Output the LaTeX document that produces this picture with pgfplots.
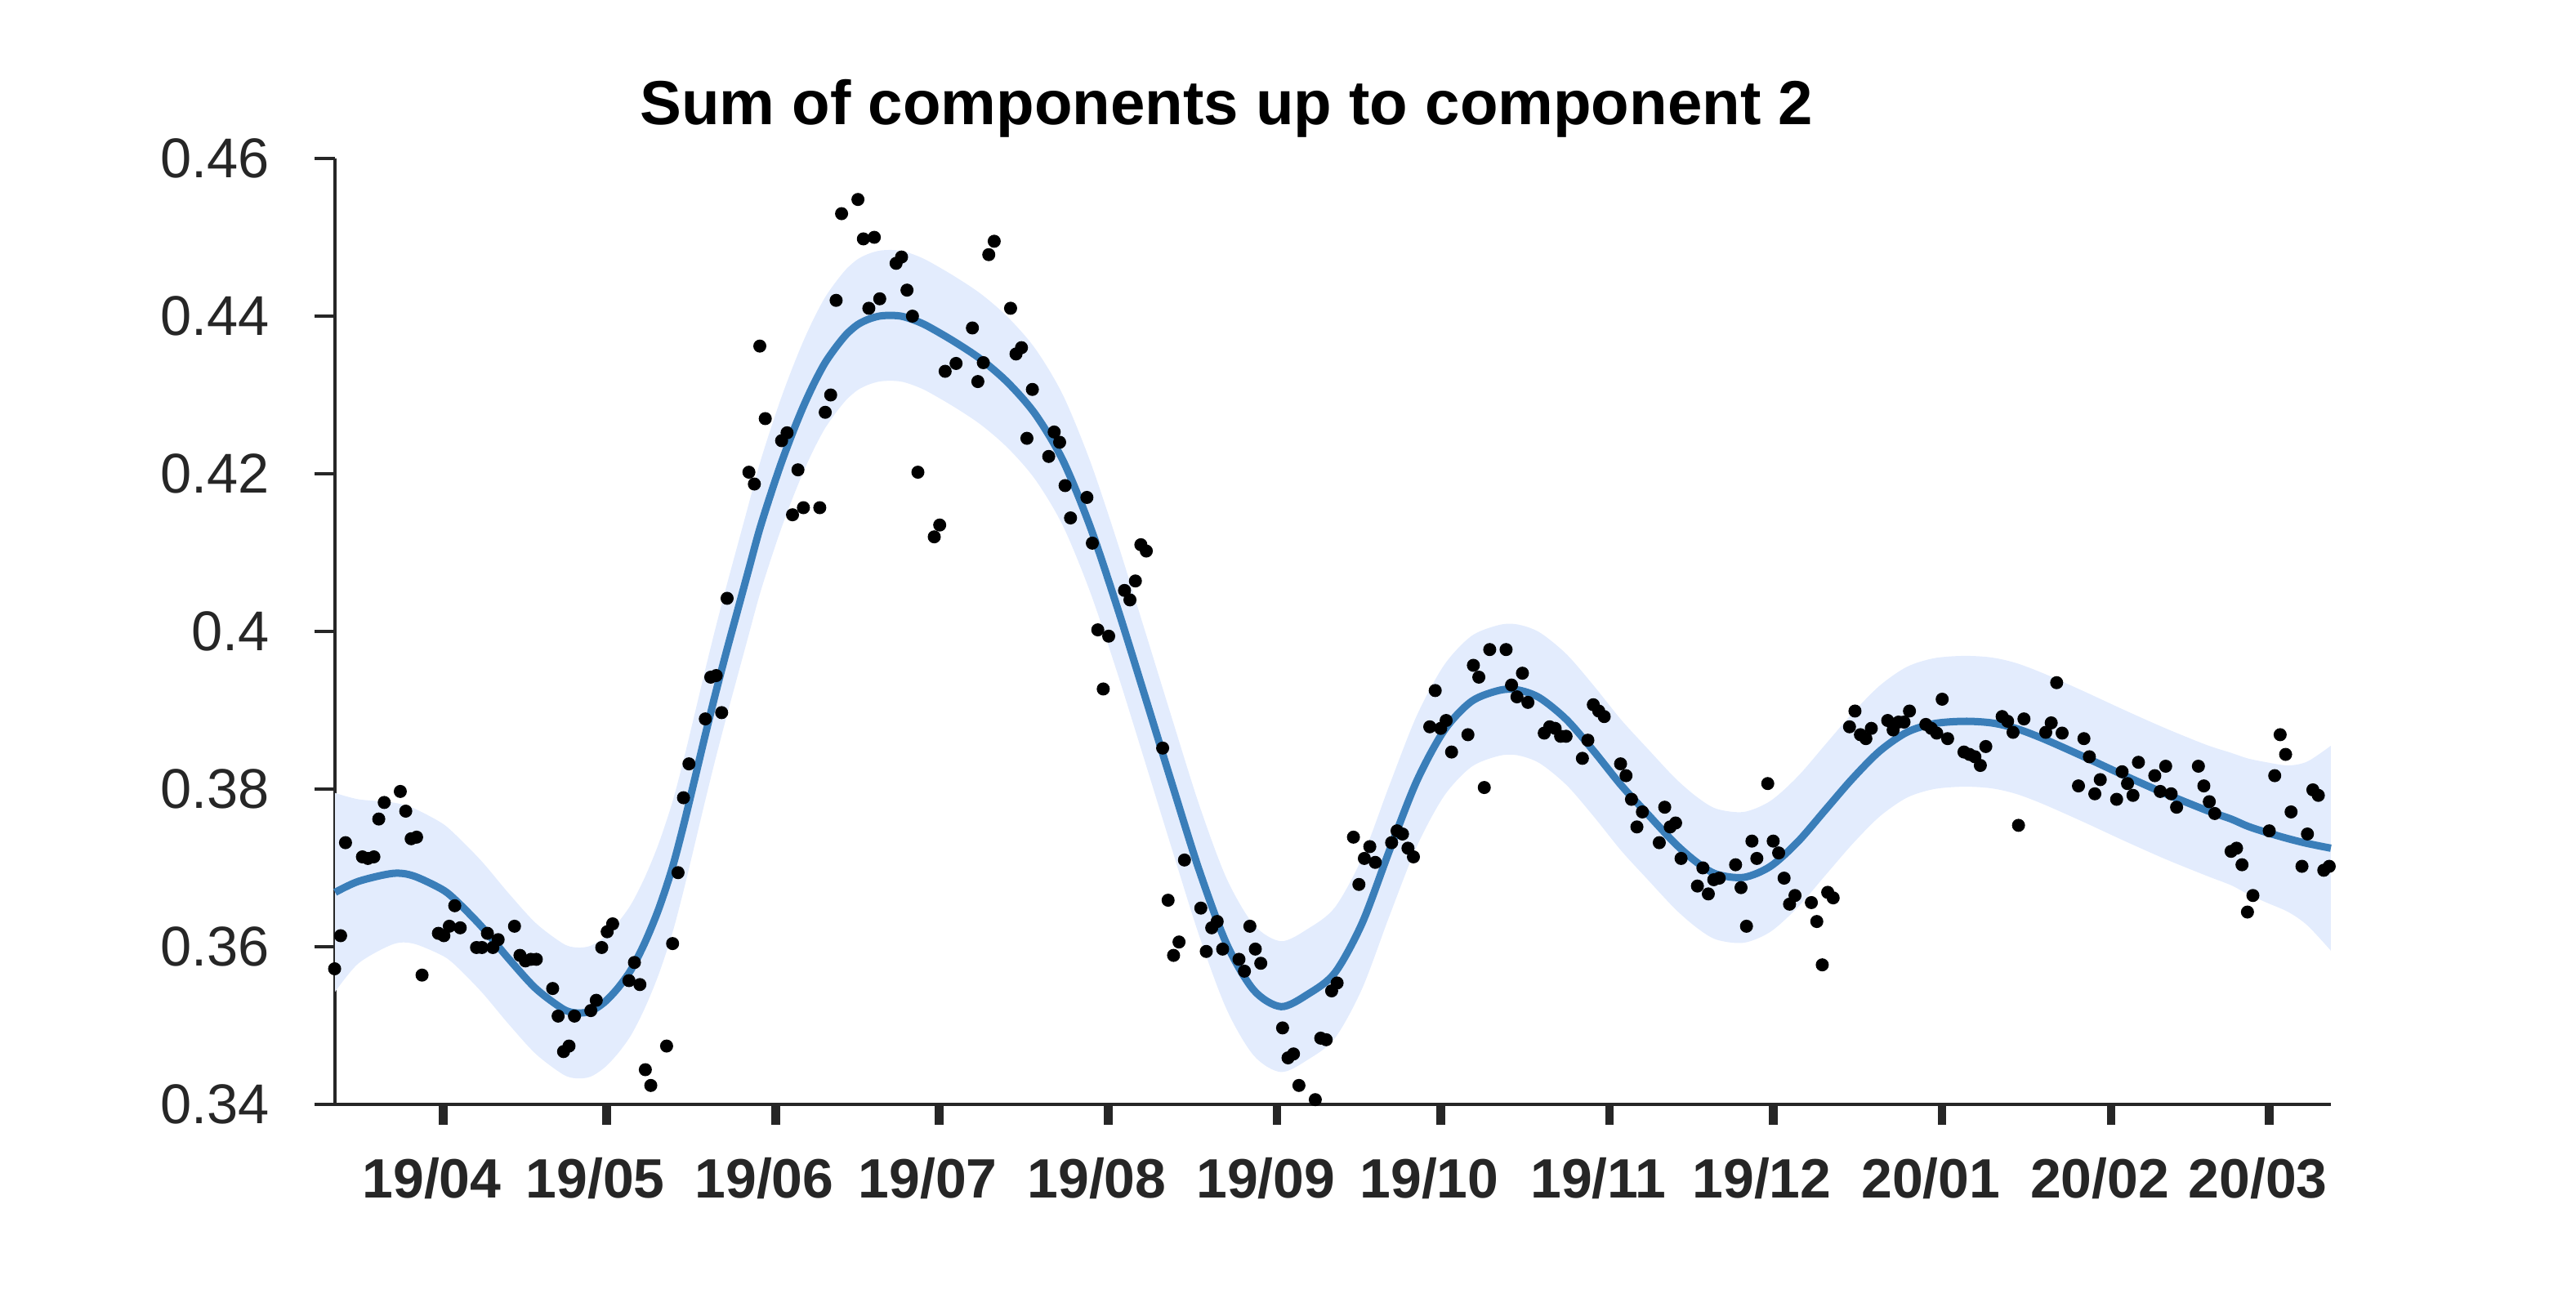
\documentclass[border=0pt]{standalone}
\usepackage{fontspec}
\setmainfont{Liberation Sans}
\usepackage{pgfplots}
\pgfplotsset{compat=1.18}
\usepgfplotslibrary{fillbetween}
\usepackage{pgfplotstable}
\definecolor{txt}{HTML}{262626}
\definecolor{fitc}{HTML}{3A7EB9}
\definecolor{bandc}{HTML}{E3ECFD}

\pgfplotstableread{
x m lo hi
-19.8 0.3669 0.3543 0.3795
-15.5 0.3683 0.3579 0.3787
-9.25 0.3693 0.3603 0.3783
-5.5 0.3690 0.3604 0.3776
-0.5 0.3674 0.3590 0.3758
2 0.3661 0.3578 0.3744
7 0.3626 0.3543 0.3709
12 0.3585 0.3502 0.3668
17 0.3547 0.3464 0.3630
22 0.3521 0.3438 0.3604
24.5 0.3516 0.3433 0.3599
27 0.3518 0.3435 0.3601
29.5 0.3529 0.3446 0.3612
32 0.3547 0.3464 0.3630
34.5 0.3571 0.3488 0.3654
37 0.3605 0.3522 0.3688
39.5 0.3647 0.3564 0.3730
42 0.3699 0.3616 0.3782
44 0.3751 0.3668 0.3834
46 0.3808 0.3725 0.3891
48 0.3866 0.3783 0.3949
50 0.3922 0.3839 0.4005
52 0.3975 0.3892 0.4058
54 0.4026 0.3943 0.4109
56 0.4077 0.3994 0.4160
58 0.4128 0.4045 0.4211
60 0.4172 0.4089 0.4255
62 0.4213 0.4130 0.4296
64 0.4250 0.4167 0.4333
66 0.4284 0.4201 0.4367
68 0.4314 0.4231 0.4397
70 0.4340 0.4257 0.4423
72 0.4360 0.4277 0.4443
74 0.4377 0.4294 0.4460
76 0.4389 0.4306 0.4472
78 0.4396 0.4313 0.4479
80 0.4400 0.4317 0.4483
82 0.4401 0.4318 0.4484
84 0.4400 0.4317 0.4483
86 0.4396 0.4313 0.4479
88.7 0.4388 0.4305 0.4471
93.7 0.4368 0.4285 0.4451
98.7 0.4345 0.4262 0.4428
103.7 0.4315 0.4232 0.4398
108.7 0.4275 0.4192 0.4358
113.7 0.4217 0.4134 0.4300
118.7 0.4133 0.4050 0.4216
123.7 0.4030 0.3947 0.4113
128.7 0.3919 0.3836 0.4002
133.7 0.3807 0.3724 0.3890
138.7 0.3697 0.3614 0.3780
143.7 0.3604 0.3521 0.3687
148.7 0.3545 0.3462 0.3628
153.7 0.3524 0.3441 0.3607
158.7 0.3540 0.3457 0.3623
163.6 0.3567 0.3484 0.3650
168.6 0.3630 0.3547 0.3713
173.6 0.3722 0.3639 0.3805
178.6 0.3810 0.3727 0.3893
183.6 0.3874 0.3791 0.3957
188.6 0.3911 0.3828 0.3994
193.6 0.3925 0.3842 0.4008
197 0.3926 0.3843 0.4009
201.1 0.3916 0.3833 0.3999
206.1 0.3888 0.3805 0.3971
211.1 0.3848 0.3765 0.3931
216.1 0.3805 0.3722 0.3888
221 0.3768 0.3685 0.3851
226 0.3731 0.3648 0.3814
230 0.3707 0.3624 0.3790
233.6 0.3692 0.3609 0.3775
238.6 0.3688 0.3605 0.3771
243.5 0.3702 0.3619 0.3785
248.5 0.3733 0.3650 0.3816
253.5 0.3773 0.3690 0.3856
258.5 0.3813 0.3730 0.3896
263.5 0.3848 0.3765 0.3931
268.5 0.3872 0.3789 0.3955
273.5 0.3883 0.3800 0.3966
279 0.3886 0.3803 0.3969
284 0.3884 0.3801 0.3967
288.5 0.3877 0.3794 0.3960
293.5 0.3864 0.3781 0.3947
301 0.3841 0.3758 0.3924
308.5 0.3817 0.3734 0.3900
316 0.3794 0.3711 0.3877
323.5 0.3773 0.3690 0.3856
328 0.3762 0.3678 0.3846
331 0.3753 0.3667 0.3839
334.5 0.3745 0.3656 0.3834
338.5 0.3737 0.3644 0.3830
342 0.3731 0.3627 0.3835
346.3 0.3725 0.3595 0.3855
}\fit

\pgfplotstableread{
x y
-19.9 0.3572
-18.8 0.3614
-17.9 0.3732
-14.8 0.3714
-13.8 0.3712
-12.7 0.3714
-11.8 0.3762
-10.8 0.3783
-7.85 0.3797
-6.85 0.3772
-5.86 0.3737
-4.86 0.3739
-3.86 0.3564
-0.86 0.3617
0.14 0.3614
1.14 0.3626
2.14 0.3652
3.14 0.3624
6.13 0.3599
7.13 0.3599
8.13 0.3617
9.13 0.3599
10.1 0.3609
13.1 0.3626
14.1 0.3589
15.1 0.3582
16.1 0.3584
17.1 0.3584
20.1 0.3547
21.1 0.3512
22.1 0.3467
23.1 0.3474
24.1 0.3512
27.1 0.3519
28.1 0.3532
29.1 0.3599
30.1 0.3619
31.1 0.3629
34.1 0.3557
35.1 0.3580
36.1 0.3552
37.1 0.3444
38.1 0.3424
41.0 0.3474
42.1 0.3604
43.1 0.3694
44.1 0.3789
45.1 0.3832
48.1 0.3889
49.1 0.3942
50.1 0.3944
51.1 0.3897
52.1 0.4042
56.1 0.4202
57.1 0.4187
58.1 0.4362
59.1 0.4270
62.1 0.4242
63.1 0.4252
64.1 0.4148
65.1 0.4205
66.1 0.4157
69.1 0.4157
70.1 0.4278
71.1 0.4300
72.1 0.4420
73.1 0.4530
76.1 0.4548
77.1 0.4498
78.1 0.4410
79.1 0.4500
80.1 0.4422
83.1 0.4467
84.1 0.4475
85.1 0.4433
86.1 0.4400
87.1 0.4202
90.1 0.4120
91.1 0.4135
92.1 0.4330
94.1 0.4340
97.1 0.4385
98.1 0.4317
99.1 0.4341
100.1 0.4478
101.1 0.4495
104.1 0.4410
105.1 0.4352
106.1 0.4360
107.1 0.4245
108.1 0.4307
111.1 0.4222
112.1 0.4253
113.1 0.4240
114.1 0.4185
115.1 0.4144
118.1 0.4170
119.1 0.4112
120.1 0.4002
121.1 0.3927
122.1 0.3994
125.0 0.4052
126.0 0.4040
127.0 0.4064
128.0 0.4110
129.0 0.4102
132.0 0.3852
133.0 0.3659
134.0 0.3589
135.0 0.3606
136.0 0.3710
139.0 0.3649
140.0 0.3594
141.0 0.3624
142.0 0.3632
143.0 0.3597
146.0 0.3584
147.0 0.3569
148.0 0.3626
149.0 0.3597
150.0 0.3579
154.0 0.3497
155.0 0.3459
156.0 0.3464
157.0 0.3424
160.0 0.3406
161.0 0.3484
162.0 0.3482
163.0 0.3544
164.0 0.3554
167.0 0.3739
168.0 0.3679
169.0 0.3712
170.0 0.3727
171.0 0.3707
174.0 0.3732
175.0 0.3747
176.0 0.3743
177.0 0.3725
178.0 0.3714
181.0 0.3879
182.0 0.3925
183.0 0.3877
184.0 0.3887
185.0 0.3847
188.0 0.3869
189.0 0.3957
190.0 0.3942
191.0 0.3802
192.0 0.3977
195.0 0.3977
196.0 0.3932
197.0 0.3917
198.0 0.3947
199.0 0.3910
202.0 0.3871
203.0 0.3879
204.0 0.3877
205.0 0.3867
206.0 0.3867
209.0 0.3839
210.0 0.3862
211.0 0.3907
212.0 0.3899
213.0 0.3892
216.0 0.3832
217.0 0.3817
218.0 0.3787
219.0 0.3752
220.0 0.3771
223.1 0.3732
224.1 0.3777
225.1 0.3752
226.1 0.3757
227.1 0.3712
230.1 0.3677
231.1 0.3700
232.1 0.3667
233.1 0.3685
234.1 0.3687
237.1 0.3704
238.1 0.3675
239.1 0.3626
240.1 0.3734
241.0 0.3712
243.0 0.3807
244.0 0.3734
245.0 0.3719
246.0 0.3687
247.0 0.3654
248.0 0.3665
251.0 0.3656
252.0 0.3632
253.0 0.3577
254.0 0.3669
255.0 0.3662
258.0 0.3879
259.0 0.3899
260.0 0.3869
261.0 0.3864
262.0 0.3877
265.0 0.3887
266.0 0.3875
267.0 0.3885
268.0 0.3885
269.0 0.3899
272.0 0.3882
273.0 0.3877
274.0 0.3871
275.0 0.3914
276.0 0.3864
279.0 0.3847
280.0 0.3844
281.0 0.3841
282.0 0.3830
283.0 0.3854
286.0 0.3892
287.0 0.3886
288.0 0.3872
289.0 0.3754
290.0 0.3889
294.0 0.3872
295.0 0.3884
296.0 0.3935
297.0 0.3871
300.0 0.3804
301.0 0.3864
302.0 0.3841
303.0 0.3794
304.0 0.3812
307.0 0.3787
308.0 0.3822
309.0 0.3807
310.0 0.3792
311.0 0.3834
314.0 0.3817
315.0 0.3797
316.0 0.3829
317.0 0.3794
318.0 0.3777
322.0 0.3829
323.0 0.3804
324.0 0.3784
325.0 0.3769
328.0 0.3721
329.0 0.3725
330.0 0.3704
331.0 0.3644
332.0 0.3665
335.0 0.3747
336.0 0.3817
337.0 0.3869
338.0 0.3844
339.0 0.3771
341.0 0.3702
342.0 0.3743
343.0 0.3799
344.0 0.3792
345.0 0.3697
346.0 0.3702
}\obs

\begin{document}
\begin{tikzpicture}
\begin{axis}[
  scale only axis,
  width=352.5pt, height=167.1pt,
  xmin=-19.8, xmax=346.3, ymin=0.34, ymax=0.46,
  clip=false,
  axis x line*=bottom, axis y line*=left,
  axis line style={txt, line width=0.55pt, -},
  xtick={0,30,61,91,122,153,183,214,244,275,306,335},
  xticklabels={19/04,19/05,19/06,19/07,19/08,19/09,19/10,19/11,19/12,20/01,20/02,20/03},
  ytick={0.34,0.36,0.38,0.4,0.42,0.44,0.46},
  yticklabels={0.34,0.36,0.38,0.4,0.42,0.44,0.46},
  tick align=outside,
  major tick length=3.6pt,
  x tick style={txt, line width=1.5pt},
  y tick style={txt, line width=0.45pt},
  xticklabel style={font=\fontsize{9.8}{11}\selectfont\bfseries, text=txt, xshift=-2pt, yshift=-2.3pt},
  yticklabel style={font=\fontsize{9.9}{11}\selectfont, text=txt, xshift=-4.5pt},
  /pgf/number format/assume math mode=true,
  title={Sum of components up to component 2},
  title style={at={(0.4466,1)}, anchor=base, yshift=0pt, font=\fontsize{11}{13}\selectfont\bfseries, text=black},
]
\addplot[name path=hi, draw=none, smooth] table[x=x, y=hi] {\fit};
\addplot[name path=lo, draw=none, smooth] table[x=x, y=lo] {\fit};
\addplot[bandc, draw=none] fill between[of=hi and lo];
\addplot[fitc, line width=1.3pt, smooth] table[x=x, y=m] {\fit};
\addplot[only marks, mark=*, mark size=0.95pt, black] table[x=x, y=y] {\obs};
\end{axis}
\pgfresetboundingbox
\path ([shift={(-59.2pt,-32.5pt)}]current axis.south west) rectangle ([shift={(43.3pt,28pt)}]current axis.north east);
\end{tikzpicture}
\end{document}
